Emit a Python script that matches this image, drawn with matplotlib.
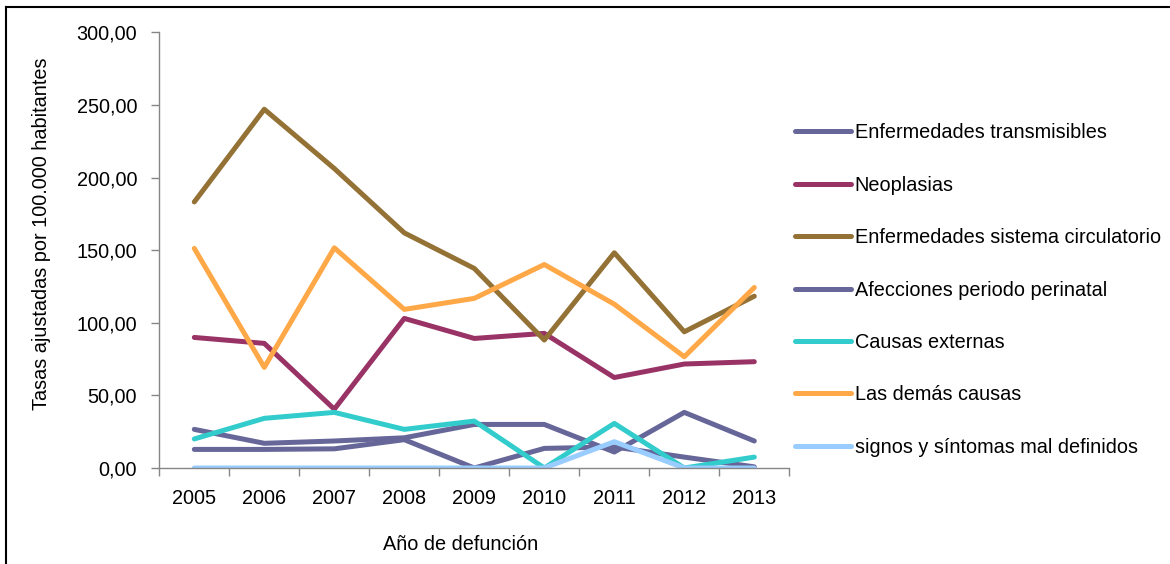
import matplotlib
matplotlib.use('Agg')
import matplotlib.pyplot as plt
from matplotlib.lines import Line2D
from matplotlib.ticker import FuncFormatter, FixedLocator

plt.rcParams['font.family'] = ['Liberation Sans', 'DejaVu Sans']

# Data
years = ['2005', '2006', '2007', '2008', '2009', '2010', '2011', '2012', '2013']
transmisibles = [26.6, 17.0, 18.6, 20.8, 30.0, 30.0, 11.0, 38.3, 18.6]
neoplasias = [89.9, 85.8, 40.5, 103.0, 89.2, 92.7, 62.3, 71.6, 73.2]
circulatorio = [183.2, 247.0, 206.2, 161.9, 137.4, 88.1, 148.2, 93.8, 118.3]
perinatal = [12.8, 12.8, 13.2, 19.5, 0.0, 13.5, 14.5, 7.5, 0.8]
externas = [20.0, 34.2, 38.3, 26.6, 32.3, 0.0, 30.7, 0.0, 7.5]
demas = [151.2, 69.3, 151.6, 109.2, 116.8, 140.1, 112.8, 76.6, 124.3]
signos = [0.0, 0.0, 0.0, 0.0, 0.0, 0.0, 18.1, 0.0, 0.0]

series = [
    ('Enfermedades transmisibles', transmisibles, '#666699'),
    ('Neoplasias', neoplasias, '#993366'),
    ('Enfermedades sistema circulatorio', circulatorio, '#947236'),
    ('Afecciones periodo perinatal', perinatal, '#666699'),
    ('Causas externas', externas, '#33CCCC'),
    ('Las demás causas', demas, '#FFA847'),
    ('signos y síntomas mal definidos', signos, '#99CCFF'),
]

fig = plt.figure(figsize=(11.7, 5.64), dpi=100)
W, H = 1170, 564
ax = fig.add_axes([159.3 / W, 1 - 468 / H, (789.3 - 159.3) / W, (468 - 32.3) / H])

x = list(range(len(years)))
for label, vals, color in series:
    ax.plot(x, vals, color=color, lw=3.6, label=label,
            solid_capstyle='round', solid_joinstyle='round')

ax.set_xlim(-0.5, len(years) - 0.5)
ax.set_ylim(0, 300)
ax.set_yticks(range(0, 301, 50))
ax.yaxis.set_major_formatter(FuncFormatter(lambda v, p: f'{v:.2f}'.replace('.', ',')))

# category labels in the middle, tick marks between categories
ax.set_xticks(x)
ax.set_xticklabels(years)
ax.xaxis.set_minor_locator(FixedLocator([i - 0.5 for i in range(len(years) + 1)]))
ax.tick_params(axis='x', which='major', length=0, pad=15, labelsize=14.3)
ax.tick_params(axis='x', which='minor', length=6, color='#868686', width=1)
ax.tick_params(axis='y', length=6, color='#868686', width=1, pad=10, labelsize=14.3)

for s in ['top', 'right']:
    ax.spines[s].set_visible(False)
for s in ['left', 'bottom']:
    ax.spines[s].set_color('#868686')
    ax.spines[s].set_linewidth(1)

fig.text(42 / W, 1 - 234 / H, 'Tasas ajustadas por 100.000 habitantes',
         rotation=90, ha='center', va='center', fontsize=14.3)
fig.text(461 / W, 1 - 544 / H, 'Año de defunción', ha='center', va='center', fontsize=14.3)

fig.legend(loc='center left', bbox_to_anchor=(795 / W, 1 - 290 / H), frameon=False,
           fontsize=14.3, handlelength=2.8, handletextpad=0.2, labelspacing=1.68,
           borderpad=0, borderaxespad=0)

# outer frame (left and top edges visible in reference)
fig.add_artist(Line2D([6 / W, 6 / W], [0, 1 - 7 / H], transform=fig.transFigure, color='black', lw=1.5))
fig.add_artist(Line2D([6 / W, 1], [1 - 7 / H, 1 - 7 / H], transform=fig.transFigure, color='black', lw=1.5))

fig.savefig('out.png', dpi=100)
